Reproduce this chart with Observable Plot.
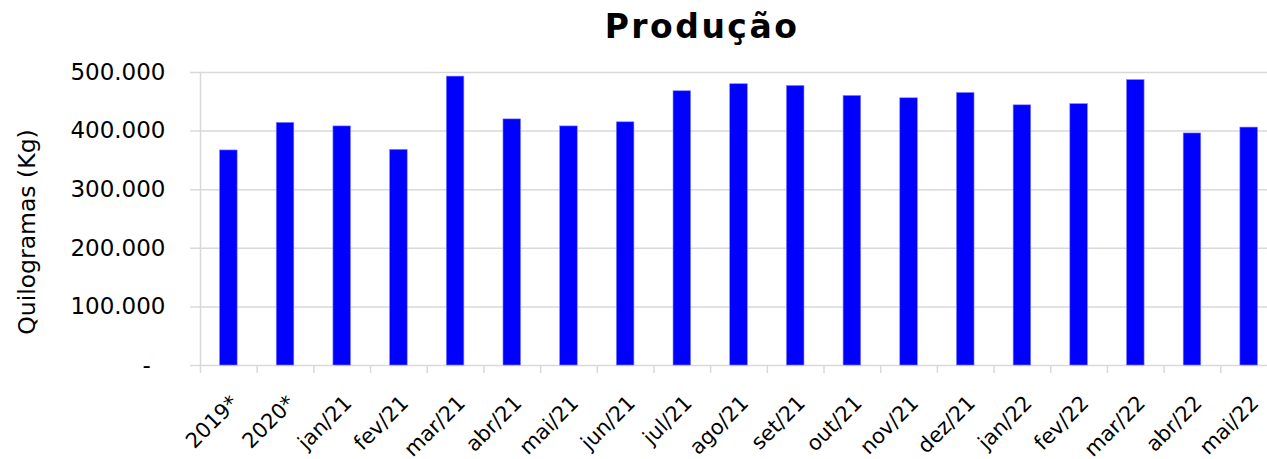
<!DOCTYPE html>
<html>
<head>
<meta charset="utf-8">
<script src="https://cdn.jsdelivr.net/npm/d3@7"></script>
<script src="https://cdn.jsdelivr.net/npm/@observablehq/plot@0.6"></script>
<style>
  html, body { margin: 0; padding: 0; background: #fff; }
  #wrap { position: relative; width: 1267px; height: 459px; overflow: hidden; }
  #title { position: absolute; top: 7px; left: 702px; transform: translateX(-50%);
           font-family: "DejaVu Sans", sans-serif; font-weight: bold; font-size: 33px;
           letter-spacing: 2.5px; white-space: nowrap; color: #000; }
  #chart { position: absolute; top: 0; left: 0; }
</style>
</head>
<body>
<div id="wrap">
  <div id="title">Produção</div>
  <div id="chart"></div>
</div>
<script>
const categories = ["2019*", "2020*", "jan/21", "fev/21", "mar/21", "abr/21", "mai/21", "jun/21", "jul/21", "ago/21", "set/21", "out/21", "nov/21", "dez/21", "jan/22", "fev/22", "mar/22", "abr/22", "mai/22"];
const values = [367000, 414000, 408000, 368000, 493000, 420000, 408000, 415000, 468000, 480000, 477000, 460000, 456000, 465000, 444000, 446000, 487000, 396000, 406000];
const yTicks = [0, 100000, 200000, 300000, 400000, 500000];
const yLabel = "Quilogramas (Kg)";

const data = categories.map((c, i) => ({cat: c, val: values[i]}));
const fmt = d => d === 0 ? "-\u00a0\u00a0" : d3.format(",")(d).replace(/,/g, ".");

const W = 1267, H = 459;
const mL = 200, mR = -10;
const bw = (W - mR - mL) / categories.length;

const chart = Plot.plot({
  width: W, height: H,
  marginLeft: mL, marginRight: mR, marginTop: 72, marginBottom: 94,
  style: {fontFamily: "DejaVu Sans, sans-serif", color: "#000", overflow: "visible"},
  x: {type: "band", domain: categories, paddingInner: 0.69, paddingOuter: 0.345, align: 0.5, round: false},
  y: {domain: [0, 500000]},
  marks: [
    Plot.ruleY(yTicks, {stroke: "#d9d9d9", strokeWidth: 1.5, insetLeft: -10}),
    Plot.frame({anchor: "left", stroke: "#d9d9d9", strokeWidth: 1.5}),
    Plot.axisX({tickSize: 8, dx: -bw / 2, stroke: "#d9d9d9", strokeWidth: 1.5, text: null, label: null}),
    Plot.axisX({tickSize: 0, tickPadding: 12, tickRotate: -45, fontSize: 21, dx: 6, dy: 22, label: null}),
    Plot.axisY(yTicks, {tickSize: 0, tickPadding: 35, tickFormat: fmt, fontSize: 23, label: null}),
    Plot.barY(data, {x: "cat", y: "val", fill: "#0000ff", stroke: "#8080ff", strokeWidth: 0.6}),
    Plot.text([yLabel], {frameAnchor: "left", textAnchor: "middle", lineAnchor: "middle", dx: -173, dy: 13, rotate: -90, fontSize: 23.5, fill: "#000"})
  ]
});
document.getElementById("chart").appendChild(chart);
</script>
</body>
</html>
